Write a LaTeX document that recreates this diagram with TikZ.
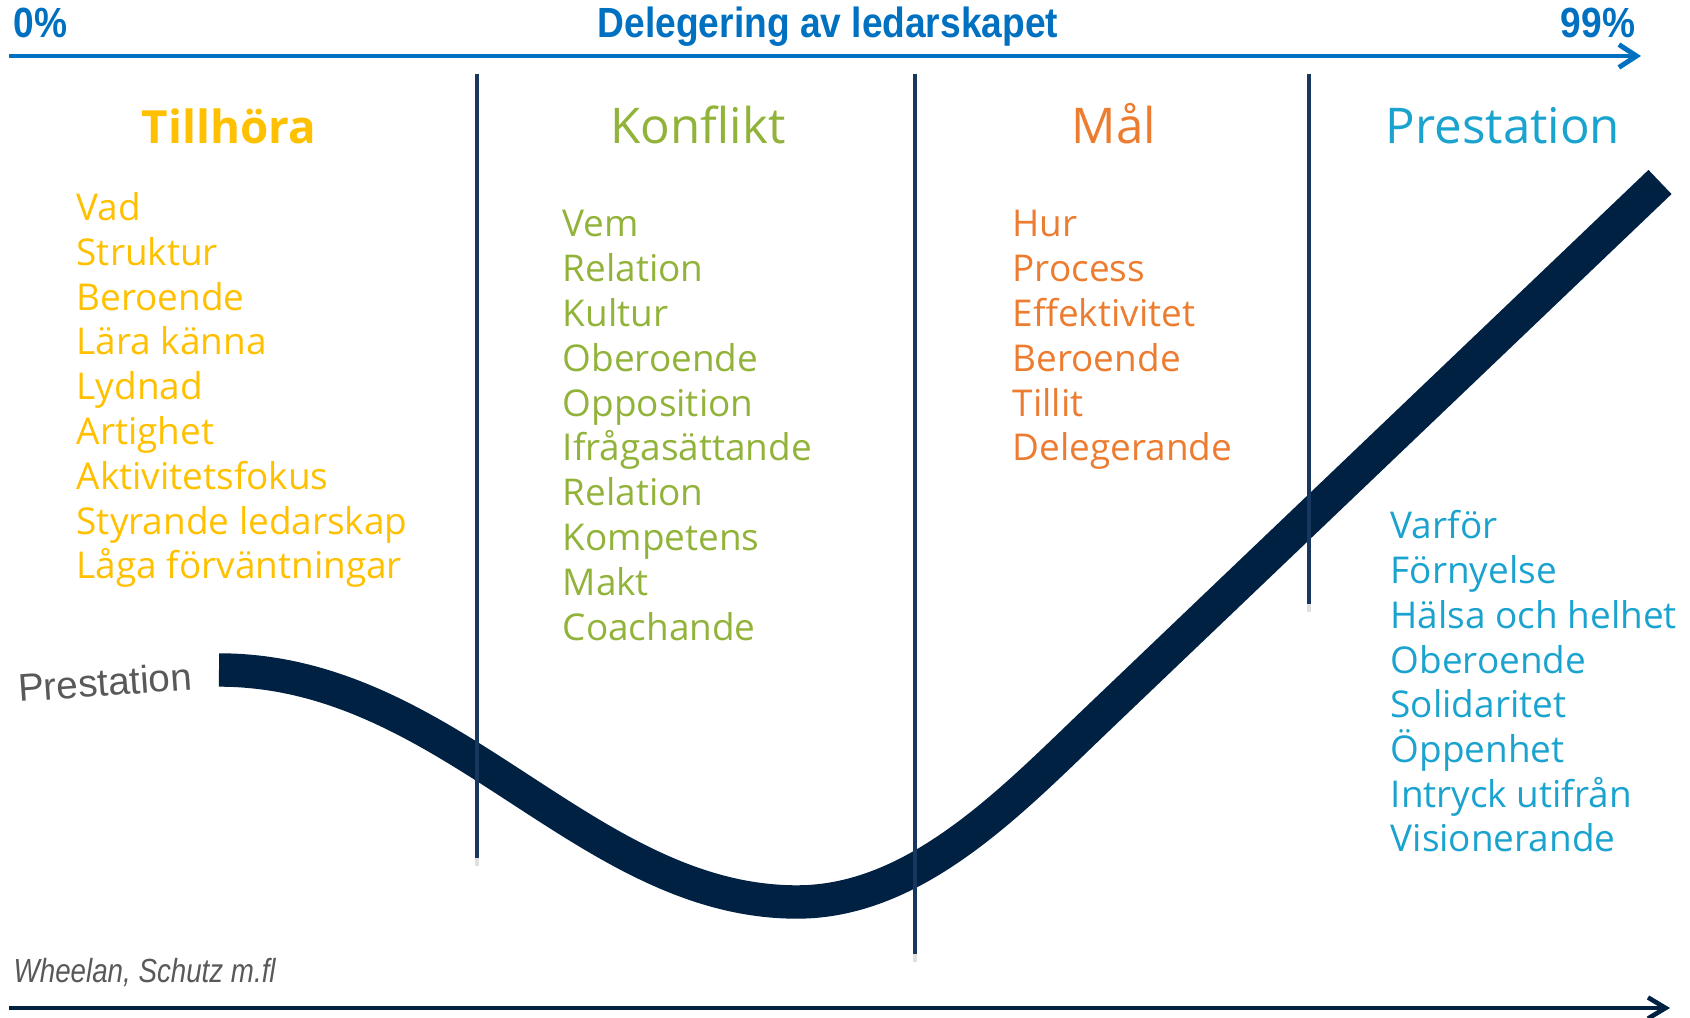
\documentclass[tikz,border=0pt]{standalone}
\usepackage{fontspec}
\setmainfont{Liberation Sans}
\newfontfamily\hand{Open Sans}
\newfontfamily\narrowsans[FakeStretch=0.88]{Liberation Sans}
\newfontfamily\narrowital[FakeStretch=0.83]{Liberation Sans Italic}
\usetikzlibrary{arrows.meta}

\definecolor{delblue}{HTML}{0070C0}
\definecolor{navy}{HTML}{002142}
\definecolor{lineblue}{HTML}{17375E}
\definecolor{tillcol}{HTML}{FFC000}
\definecolor{konfcol}{HTML}{92B33A}
\definecolor{malcol}{HTML}{EC7C30}
\definecolor{prestcol}{HTML}{1BA3CF}
\definecolor{textgray}{HTML}{595959}

\tikzset{
  toptext/.style={inner sep=0pt, text=delblue, font=\narrowsans\bfseries\fontsize{12}{14}\selectfont},
  phase/.style={anchor=base, inner sep=0pt, font=\hand\fontsize{14}{16}\selectfont},
  item/.style={anchor=base west, inner sep=0pt, font=\hand\fontsize{10.5}{12}\selectfont},
  divider/.style={lineblue, line width=0.9pt},
  dropshade/.style={black!12, line width=1.4pt},
}

\begin{document}
\begin{tikzpicture}[x=0.01cm,y=0.01cm]
\useasboundingbox (0,0) rectangle (1690,1018);
% top axis
\coordinate (dstart) at (9,962);
\coordinate (dend) at (1641,962);
\draw[delblue, line width=1.4pt, -{Straight Barb[length=5pt,width=6.5pt]}] (dstart) -- (dend);
\node[toptext, anchor=base west] (lo) at (13,980) {0\%};
\node[toptext, anchor=base] (title) at (828,980) {Delegering av ledarskapet};
\node[toptext, anchor=base east] (hi) at (1636,980) {99\%};
% performance curve
\coordinate (cstart) at (219,348);
\coordinate (cmin) at (797,116);
\coordinate (cbend) at (1100,301.5);
\coordinate (cend) at (1660,836);
\draw[navy, line width=9.5pt] (cstart) .. controls (450,348) and (585,116) .. (cmin)
  .. controls (917,116) and (1013,218.6) .. (cbend) -- (cend);
\node[rotate=4, text=textgray, font=\fontsize{11}{13}\selectfont] (plabel) at (105,336) {Prestation};
% phase borders
\coordinate (b1top) at (477,944);
\coordinate (b1bot) at (477,160);
\coordinate (b2top) at (915,944);
\coordinate (b2bot) at (915,64);
\coordinate (b3top) at (1309,944);
\coordinate (b3bot) at (1309,414);
\draw[dropshade] (b1bot) -- ++(0,-8);
\draw[dropshade] (b2bot) -- ++(0,-8);
\draw[dropshade] (b3bot) -- ++(0,-8);
\draw[divider] (b1top) -- (b1bot);
\draw[divider] (b2top) -- (b2bot);
\draw[divider] (b3top) -- (b3bot);
% phases
\node[phase, text=tillcol, font=\hand\bfseries\fontsize{13}{15}\selectfont] (till) at (229,874) {Tillhöra};
\node[phase, text=konfcol] (konf) at (698,874) {Konflikt};
\node[phase, text=malcol] (mal) at (1114,874) {Mål};
\node[phase, text=prestcol] (prest) at (1503,874) {Prestation};
\foreach \w [count=\i from 0] in {Vad,Struktur,Beroende,Lära känna,Lydnad,Artighet,Aktivitetsfokus,Styrande ledarskap,Låga förväntningar}
  \node[item, text=tillcol] (till\i) at (76,797.5-44.8*\i) {\w};
\foreach \w [count=\i from 0] in {Vem,Relation,Kultur,Oberoende,Opposition,Ifrågasättande,Relation,Kompetens,Makt,Coachande}
  \node[item, text=konfcol] (konf\i) at (562,781-44.8*\i) {\w};
\foreach \w [count=\i from 0] in {Hur,Process,Effektivitet,Beroende,Tillit,Delegerande}
  \node[item, text=malcol] (mal\i) at (1012,781-44.8*\i) {\w};
\foreach \w [count=\i from 0] in {Varför,Förnyelse,Hälsa och helhet,Oberoende,Solidaritet,Öppenhet,Intryck utifrån,Visionerande}
  \node[item, text=prestcol] (prest\i) at (1390,479-44.7*\i) {\w};
% bottom axis
\node[anchor=base west, inner sep=0pt, text=textgray, font=\narrowital\fontsize{9.5}{11}\selectfont] (src) at (13,35) {Wheelan, Schutz m.fl};
\coordinate (tstart) at (9,10);
\coordinate (tend) at (1670,10);
\draw[navy, line width=1.3pt, -{Straight Barb[length=5pt,width=6pt]}] (tstart) -- (tend);
\end{tikzpicture}
\end{document}
